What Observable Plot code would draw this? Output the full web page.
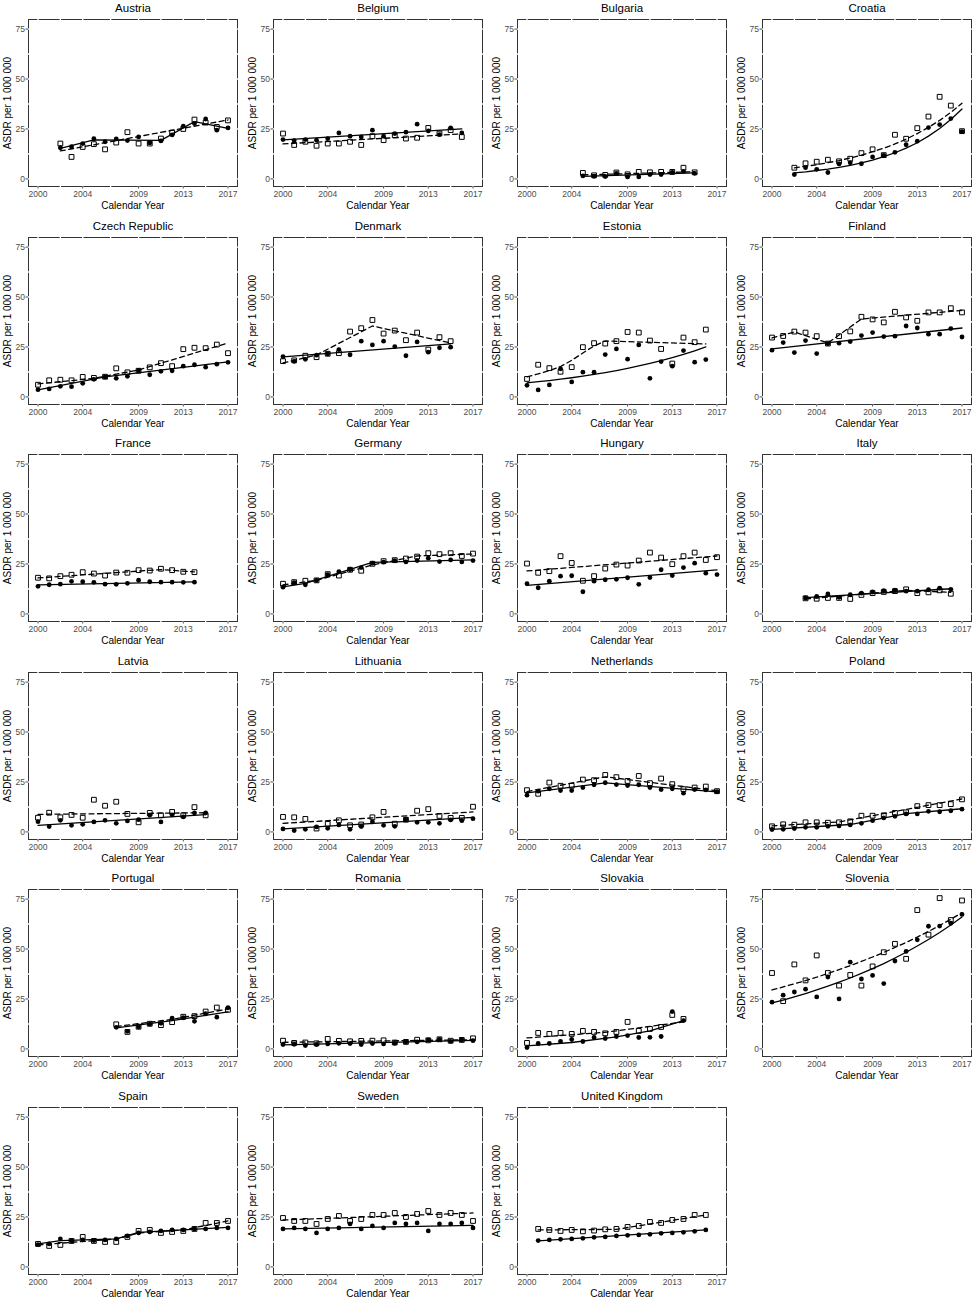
<!DOCTYPE html>
<html><head><meta charset="utf-8">
<script src="https://cdn.jsdelivr.net/npm/d3@7"></script>
<script src="https://cdn.jsdelivr.net/npm/@observablehq/plot@0.6"></script>
<style>
body{margin:0;background:#fff;}
#grid{position:relative;width:974px;height:1299px;overflow:hidden;background:#fff;}
.panel{position:absolute;width:245px;height:217px;}
.panel svg{max-width:none !important;}
</style></head><body><div id="grid"></div>
<script>
const countries = ["Austria","Belgium","Bulgaria","Croatia","Czech Republic","Denmark","Estonia","Finland","France","Germany","Hungary","Italy","Latvia","Lithuania","Netherlands","Poland","Portugal","Romania","Slovakia","Slovenia","Spain","Sweden","United Kingdom"];
const firstYear = [2002,2000,2005,2002,2000,2000,2000,2000,2000,2000,2000,2003,2000,2000,2000,2000,2007,2000,2000,2000,2000,2000,2001];

// filled circles
const filledSeries = [
  [15.6,16.1,17.7,20.1,18.6,20,19.2,21,18,19,22,26.4,27.7,30,24.4,25.5],
  [19.7,19.2,19.7,19.4,20.2,23,21.4,21,24.4,21.4,22.7,23.4,27.4,24,22.2,25.5,23],
  [1.5,1.3,1.2,2.8,1,1,2.2,2.2,3.3,3.8,2.8],
  [2.2,5.6,4.8,3.2,7.5,8.1,7.6,11,11.8,13.3,17.1,18.9,25.7,27.2,30.2,23.7],
  [3.6,4,5.3,5.1,6.8,8.8,10,9.3,10.3,13.3,11.1,12.8,13.1,15.4,16.1,14.9,16.4,17.3],
  [20.2,17.8,18.8,20.9,21.6,23.7,21.1,27.9,26,27.9,25.2,20.6,27.5,22.4,24.6,24.9],
  [5.8,3.5,6,14.1,7.5,12.4,12.4,21.2,24,18.9,26,9.3,17.7,15.4,23.2,17.4,18.7],
  [23.4,27.2,22.2,28.2,21.7,26.7,26.9,27.7,30.7,32.2,30.2,30.4,35.5,34.5,31.4,31.4,34.2,30],
  [13.8,14.6,14.9,16.3,16.1,15.8,14.9,14.8,15.3,16.9,16.1,15.9,15.9,15.8,15.9],
  [13.4,15.6,14.6,16.8,19.6,21.2,22.4,23.2,25.4,25.9,26.7,26,26.7,27.9,26.2,27,26,26.7],
  [15.1,13.1,16.4,18.9,19.1,11.1,16.4,17.1,17.3,18.1,14.8,18.2,22.1,19.2,23.2,25.4,20.4,19.7],
  [8,8.8,10,8.3,9.6,10.4,11,11.6,11.9,11.4,11.4,12.1,12.9,12.3],
  [5.1,2.7,5.8,3.3,3.8,5,5.8,4.3,5.5,6.1,8.3,5,8.5,7.5,9.5,9.5],
  [1.5,0.7,1.3,2.5,1.8,3.5,1.3,2.7,5,3.3,2.8,6.3,4.8,4.8,4.3,6,5.6,6.6],
  [18.4,20.4,21.6,20.7,20.7,22.2,23.6,24.6,23.7,23.2,23.6,22.2,21.2,21.6,19.4,21.2,21,20.1],
  [1.2,1.3,1.7,2.3,2.3,2.8,3,3.5,4.3,5.6,7,7.8,9,9,10.3,10.1,10.6,11.4],
  [10.8,8.8,11.1,12.4,12.8,15.4,15.6,13.8,17.6,15.9,20.6],
  [2.2,2.3,1.7,2.2,2.5,2.8,2.7,2.2,2.7,2.5,2.8,3.5,3.5,4.5,4.8,3.8,4.5,4.1],
  [0.7,2.7,2.7,3.7,4.7,3.7,5.7,5.2,6.2,6.7,5.7,5.8,6.2,18.7,14.2],
  [23.4,26.9,28.5,29.9,26,36,25,43.4,35,36.8,32.7,44,48.8,54.6,61.4,61.5,62.9,67.3],
  [11.2,11.5,14,13,13.5,13.2,13.5,14,15.5,17,17.5,18,18.5,18.5,19,19,19.5,19.5],
  [19,19.5,19,17,19,19.5,21.5,19,20.5,19.5,22,21.5,22,18,21.5,21.5,22,19.5],
  [13.2,13.5,13.8,14,14.3,14.8,15,15.5,15.8,16,16.3,16.8,17,17.3,17.8,18.5]
];

// open squares
const openSeries = [
  [17.7,11,16,17.4,14.8,18.2,23.4,17.7,17.7,20.2,23.2,25,29.7,28.2,26,29.3],
  [22.7,17,18.6,16.6,17.7,17.7,18.6,17,21.4,19.4,21.9,20.2,20.6,25.5,22.7,24.4,21],
  [3,1.8,2,3.2,2.3,3.5,3.3,3.5,3.5,5.6,3.3],
  [5.6,7.8,8.6,9.6,8.8,10.1,12.9,14.8,11.9,22.1,20.1,25.4,31.2,41.1,36.7,23.9],
  [6.1,8.3,8.6,8.3,10,9.5,10.1,14.3,12.3,13.1,14.8,16.9,15.4,23.9,24.6,24.4,26.2,21.9],
  [17.9,18.3,20.6,19.9,21.6,21.9,32.7,34.4,38.5,31.7,33.2,28.4,32.2,23.7,29.9,27.9],
  [9,16.1,14.4,12.6,14.9,24.9,26.9,26.7,27.9,32.5,32.2,28.2,24,16.7,29.7,27.4,33.7],
  [29.7,30.5,32.7,32.2,30.4,26.7,30.4,32.8,40.1,38.8,37.3,42.6,39.8,38.1,42.3,42.3,44.4,42.3],
  [18.1,17.8,18.9,19.6,20.9,20.2,19.2,20.7,20.6,21.9,21.7,22.6,21.9,21.1,20.9],
  [15.1,15.9,16.6,16.8,19.9,19.2,22.1,21.6,25.1,26.4,26.9,27.7,28.7,30.4,29.9,30.4,29,30.2],
  [25.2,20.6,21.4,28.9,25.5,16.6,18.9,22.7,24.7,24.2,26.7,30.7,28.2,24.9,28.9,30.7,27,28.4],
  [7.8,7.6,8,8,7.5,9.5,10.4,11,11.4,12.3,10.4,10.8,11.8,10.1],
  [7.1,9.6,7.3,8.5,7.1,16.1,13.1,15.1,9,4.8,9.5,8.3,10,8.3,12.4,8.3],
  [7.5,7.3,6.5,1.7,4,5.8,3.3,3.7,7.3,10,4.1,6.1,10.6,11.4,8,7,7,12.6],
  [20.9,19.1,24.7,23.1,23.1,26.2,25.9,28.5,27.4,25.5,28,24.4,26.7,23.9,21.4,22.2,22.7,20.4],
  [2.8,3.8,3.6,4.8,4.8,4.6,4.8,5.3,8.1,8.1,8.3,9.5,9.8,12.9,13.4,13.4,13.9,16.3],
  [12.3,8.5,11.1,12.6,11.9,13.4,16.1,16.4,18.7,20.7,19.6],
  [4.1,3,3.2,2.8,5,4,3.8,4,4.1,4.3,3.2,3.5,4.6,4.3,4.8,4.1,4.5,5.3],
  [3,8,7.5,8,7.5,9,8.5,7.8,8.5,13.5,9,10,11,17,15],
  [38,23.9,42.3,34.3,46.8,38,31.7,37,31.7,41.3,48.4,52.6,45.1,69.5,57.2,75.5,64.5,74.3],
  [11.5,10.5,11,13,15,13,12.5,12.5,15,18,18.5,17,17.5,18,19,22,22,23],
  [24.5,23,23,21.5,24,25.5,23,24,26,26,27,25,26.5,28,26,27,26,23],
  [19,18.5,18,18.5,17.8,18.2,18.8,19,20,20.5,22.5,22,23.5,24,26,26]
];

// fitted trend (solid line, for filled circles): [year, value] vertices
const solidFit = [
  [[2002,15.3],[2005,19.5],[2011,19.3],[2014,28.7],[2017,25.3]],
  [[2000,19.5],[2016,25]],
  [[2005,1.3],[2015,3]],
  [[2002,3.0],[2003,3.5],[2004,4.2],[2005,4.9],[2006,5.8],[2007,6.8],[2008,8.0],[2009,9.4],[2010,11.1],[2011,13.1],[2012,15.4],[2013,18.1],[2014,21.4],[2015,25.2],[2016,29.7],[2017,35]],
  [[2000,3.5],[2006,10],[2017,17.5]],
  [[2000,20],[2015,26.5]],
  [[2000,7],[2001,7.6],[2002,8.2],[2003,8.9],[2004,9.6],[2005,10.4],[2006,11.3],[2007,12.2],[2008,13.2],[2009,14.3],[2010,15.5],[2011,16.8],[2012,18.2],[2013,19.7],[2014,21.3],[2015,23.1],[2016,25]],
  [[2000,24],[2017,34.5]],
  [[2000,14.5],[2014,16]],
  [[2000,13.5],[2002,15.3],[2008,25.8],[2017,27]],
  [[2000,14.3],[2017,22]],
  [[2003,8.2],[2016,12.6]],
  [[2000,3.3],[2015,8.7]],
  [[2000,1.5],[2017,7.3]],
  [[2000,19.5],[2007,24.5],[2017,20]],
  [[2000,1.3],[2007,3.7],[2012,9.2],[2017,11.6]],
  [[2007,10.5],[2012,14.2],[2017,18.5]],
  [[2000,2],[2017,4.3]],
  [[2000,1.5],[2004,3.2],[2008,6],[2011,9],[2014,14.2]],
  [[2000,23],[2001,24.4],[2002,26],[2003,27.7],[2004,29.5],[2005,31.4],[2006,33.4],[2007,35.5],[2008,37.8],[2009,40.2],[2010,42.7],[2011,45.5],[2012,48.4],[2013,51.5],[2014,54.8],[2015,58.3],[2016,62],[2017,66]],
  [[2000,11.5],[2002,13.2],[2007,14],[2009,17.3],[2017,19.8]],
  [[2000,19],[2017,20.8]],
  [[2001,13],[2016,18.5]]
];

// fitted trend (dashed line, for open squares)
const dashedFit = [
  [[2002,14],[2017,29.5]],
  [[2000,17.5],[2016,22.5]],
  [[2005,2],[2015,3.6]],
  [[2002,5.5],[2003,6.3],[2004,7.1],[2005,8.1],[2006,9.2],[2007,10.5],[2008,11.9],[2009,13.6],[2010,15.4],[2011,17.5],[2012,19.9],[2013,22.7],[2014,25.8],[2015,29.3],[2016,33.3],[2017,37.9]],
  [[2000,6.5],[2005,9.3],[2009,13.5],[2017,27]],
  [[2000,17],[2003,21],[2008,35.5],[2015,27]],
  [[2000,10],[2001,11.5],[2002,13.2],[2003,15.2],[2004,18.3],[2005,22],[2006,25.5],[2007,28],[2016,26.5]],
  [[2000,29.5],[2002,32.5],[2005,27],[2008,39],[2017,43.3]],
  [[2000,18],[2011,22.2],[2014,21]],
  [[2000,14.5],[2003,16.8],[2008,24.5],[2012,29],[2017,30]],
  [[2000,21.5],[2017,29]],
  [[2003,7.5],[2012,11.8],[2016,10.8]],
  [[2000,8.8],[2015,9.6]],
  [[2000,4.3],[2017,10]],
  [[2000,20.2],[2007,27.6],[2017,20.6]],
  [[2000,3],[2006,5],[2017,16.5]],
  [[2007,11.2],[2012,14.8],[2017,20]],
  [[2000,3.3],[2017,4.6]],
  [[2000,5.5],[2007,8.3],[2014,13.5]],
  [[2000,29.5],[2001,31],[2002,32.6],[2003,34.2],[2004,35.9],[2005,37.8],[2006,39.7],[2007,41.7],[2008,43.8],[2009,46],[2010,48.3],[2011,50.8],[2012,53.3],[2013,56],[2014,58.8],[2015,61.8],[2016,64.9],[2017,68.2]],
  [[2000,11],[2007,14],[2009,17],[2013,18.5],[2017,23]],
  [[2000,23.5],[2017,27]],
  [[2001,18.5],[2008,18.8],[2016,26]]
];

const xTicks = [2000,2004,2009,2013,2017];
const yTicks = [0,25,50,75];
const xMinor = [2002,2006.5,2011,2015];
const yMinor = [12.5,37.5,62.5];
const xLabel = "Calendar Year";
const yLabel = "ASDR per 1 000 000";

const FONT = "'Liberation Sans', Arial, Helvetica, sans-serif";
const grid = document.getElementById("grid");

countries.forEach((name, i) => {
  const col = i % 4, row = Math.floor(i / 4);
  const toPts = vals => vals.map((v, k) => ({year: firstYear[i] + k, value: v}));
  const chart = Plot.plot({
    width: 245, height: 217,
    marginLeft: 28, marginRight: 8, marginTop: 19, marginBottom: 31,
    style: {fontFamily: FONT, fontSize: "8.5px", color: "#4d4d4d", background: "white", overflow: "visible"},
    x: {domain: [1999.15, 2017.85]},
    y: {domain: [-3.8, 79.8]},
    marks: [
      Plot.frame({stroke: "#333", strokeWidth: 1}),
      Plot.ruleX(xTicks.concat(xMinor), {stroke: "white", strokeWidth: 1.4, insetTop: -1.5, insetBottom: -1.5}),
      Plot.ruleY(yTicks.concat(yMinor), {stroke: "white", strokeWidth: 1.4, insetLeft: -1.5, insetRight: -1.5}),
      Plot.axisX({ticks: xTicks, tickFormat: d => String(d), tickSize: 2.5, tickPadding: 2, label: null, fontSize: 8.5}),
      Plot.axisY({ticks: yTicks, tickSize: 2.5, tickPadding: 1, label: null, fontSize: 8.5}),
      Plot.line(solidFit[i], {x: d => d[0], y: d => d[1], stroke: "black", strokeWidth: 1.3}),
      Plot.line(dashedFit[i], {x: d => d[0], y: d => d[1], stroke: "black", strokeWidth: 1.3, strokeDasharray: "5,3.5"}),
      Plot.dot(toPts(filledSeries[i]), {x: "year", y: "value", r: 2.4, fill: "black", stroke: "none"}),
      Plot.dot(toPts(openSeries[i]), {x: "year", y: "value", symbol: "square", r: 2.7, fill: "none", stroke: "black", strokeWidth: 1}),
      Plot.text([name], {text: d => d, frameAnchor: "top", lineAnchor: "middle", textAnchor: "middle", dy: -11, fontSize: 11.5, fill: "black"}),
      Plot.text([xLabel], {text: d => d, frameAnchor: "bottom", lineAnchor: "middle", textAnchor: "middle", dy: 19, fontSize: 10, fill: "black"}),
      Plot.text([yLabel], {text: d => d, frameAnchor: "left", lineAnchor: "middle", textAnchor: "middle", dx: -20.7, rotate: -90, fontSize: 10, fill: "black"})
    ]
  });
  chart.style.maxWidth = "none";
  const div = document.createElement("div");
  div.className = "panel";
  div.style.left = (col * 244.7) + "px";
  div.style.top = (row * 217.5) + "px";
  div.appendChild(chart);
  grid.appendChild(div);
});
</script>
</body></html>
